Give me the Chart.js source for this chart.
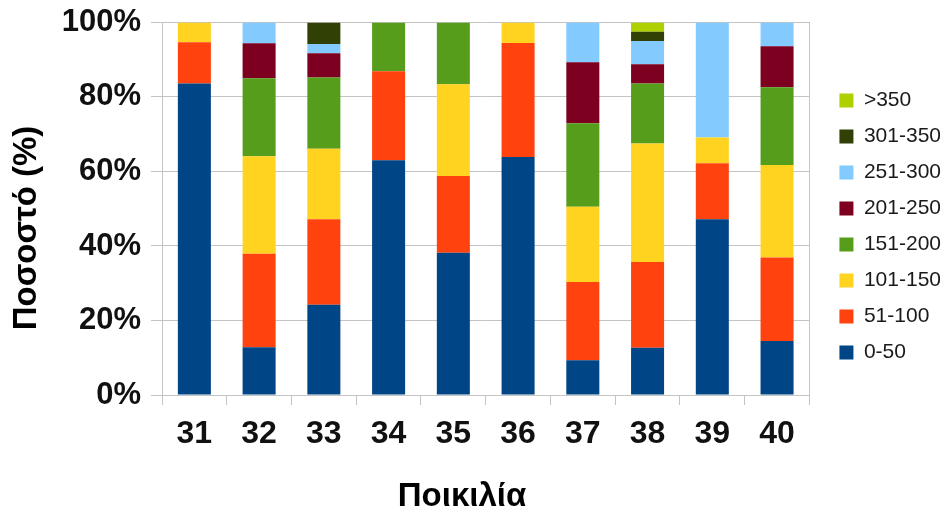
<!DOCTYPE html>
<html>
<head>
<meta charset="utf-8">
<script src="https://cdn.jsdelivr.net/npm/chart.js@4/dist/chart.umd.min.js"></script>
<style>
  html, body { margin: 0; padding: 0; background: #ffffff; }
  #wrap { width: 951px; height: 515px; position: relative; }
</style>
</head>
<body>
<div id="wrap"><canvas id="chart" width="951" height="515"></canvas></div>
<script>
// Varieties (Ποικιλία) on the x axis
const categories = ['31', '32', '33', '34', '35', '36', '37', '38', '39', '40'];

// Share (%) of each size class per variety
const class0to50    = [83.6, 12.8, 24.2, 63.0, 38.2, 63.9,  9.3, 12.7, 47.2, 14.5];
const class51to100  = [11.1, 25.1, 23.0, 23.9, 20.6, 30.6, 21.0, 23.0, 15.0, 22.4];
const class101to150 = [ 5.3, 26.2, 18.9,  0.0, 24.6,  5.5, 20.2, 31.8,  6.9, 24.8];
const class151to200 = [ 0.0, 20.9, 19.1, 13.1, 16.6,  0.0, 22.4, 16.1,  0.0, 20.9];
const class201to250 = [ 0.0,  9.4,  6.5,  0.0,  0.0,  0.0, 16.4,  5.2,  0.0, 11.0];
const class251to300 = [ 0.0,  5.6,  2.5,  0.0,  0.0,  0.0, 10.7,  6.2, 30.9,  6.4];
const class301to350 = [ 0.0,  0.0,  5.8,  0.0,  0.0,  0.0,  0.0,  2.5,  0.0,  0.0];
const classOver350  = [ 0.0,  0.0,  0.0,  0.0,  0.0,  0.0,  0.0,  2.5,  0.0,  0.0];

const seriesNames = ['0-50', '51-100', '101-150', '151-200', '201-250', '251-300', '301-350', '>350'];
const seriesValues = [class0to50, class51to100, class101to150, class151to200,
                      class201to250, class251to300, class301to350, classOver350];
const seriesColors = ['#004586', '#ff420e', '#ffd320', '#579d1c',
                      '#7e0021', '#83caff', '#314004', '#aecf00'];

// y tick values shown as percentages
const yTicks = [0, 20, 40, 60, 80, 100];

const FONT = '"Liberation Sans", Arial, sans-serif';
const GRID = '#c4c4c4';

// Axis titles, drawn on the canvas after the chart
const axisTitles = {
  id: 'axisTitles',
  afterDraw(chart) {
    const ctx = chart.ctx;
    ctx.save();
    ctx.fillStyle = '#000000';
    ctx.font = 'bold 33px ' + FONT;
    ctx.textAlign = 'center';
    ctx.textBaseline = 'middle';
    ctx.fillText('Ποικιλία', 462, 496.5);
    ctx.translate(27, 228);
    ctx.rotate(-Math.PI / 2);
    ctx.fillText('Ποσοστό (%)', 0, 0);
    ctx.restore();
  }
};

const datasets = seriesNames.map((name, i) => ({
  label: name,
  data: seriesValues[i],
  backgroundColor: seriesColors[i],
  borderWidth: 0,
  barPercentage: 0.51,
  categoryPercentage: 1.0,
  stack: 'all'
}));

new Chart(document.getElementById('chart'), {
  type: 'bar',
  data: { labels: categories, datasets: datasets },
  plugins: [axisTitles],
  options: {
    responsive: false,
    animation: false,
    devicePixelRatio: 1,
    layout: { padding: { top: 16, right: 0, bottom: 0, left: 0 } },
    plugins: {
      tooltip: { enabled: false },
      legend: {
        position: 'right',
        align: 'start',
        reverse: true,
        title: { display: true, text: ' ', font: { size: 10 }, padding: { top: 47, bottom: 0 } },
        labels: {
          boxWidth: 14,
          boxHeight: 14,
          padding: 15,
          color: '#1a1a1a',
          font: { family: FONT, size: 21 }
        }
      }
    },
    scales: {
      x: {
        stacked: true,
        grid: {
          offset: true,
          drawOnChartArea: false,
          drawTicks: true,
          tickLength: 10,
          tickColor: GRID
        },
        border: { display: true, color: GRID },
        ticks: {
          color: '#111111',
          padding: 10,
          maxRotation: 0,
          font: { family: FONT, size: 32, weight: 'bold' }
        },
        afterFit(scale) { scale.height = 120; }
      },
      y: {
        stacked: true,
        min: 0,
        max: 100,
        afterBuildTicks(scale) { scale.ticks = yTicks.map(v => ({ value: v })); },
        grid: { color: GRID, tickLength: 11, drawTicks: true, tickColor: GRID },
        border: { display: true, color: GRID },
        ticks: {
          color: '#111111',
          padding: 10,
          font: { family: FONT, size: 31, weight: 'bold', lineHeight: 0.8 },
          callback: v => v + '%'
        },
        afterFit(scale) { scale.width = 162; }
      },
      frame: {
        type: 'linear',
        position: 'right',
        min: 0,
        max: 100,
        grid: { drawOnChartArea: false, drawTicks: false },
        border: { display: true, color: GRID },
        ticks: { display: false },
        afterFit(scale) { scale.width = 15; }
      }
    }
  }
});
</script>
</body>
</html>
